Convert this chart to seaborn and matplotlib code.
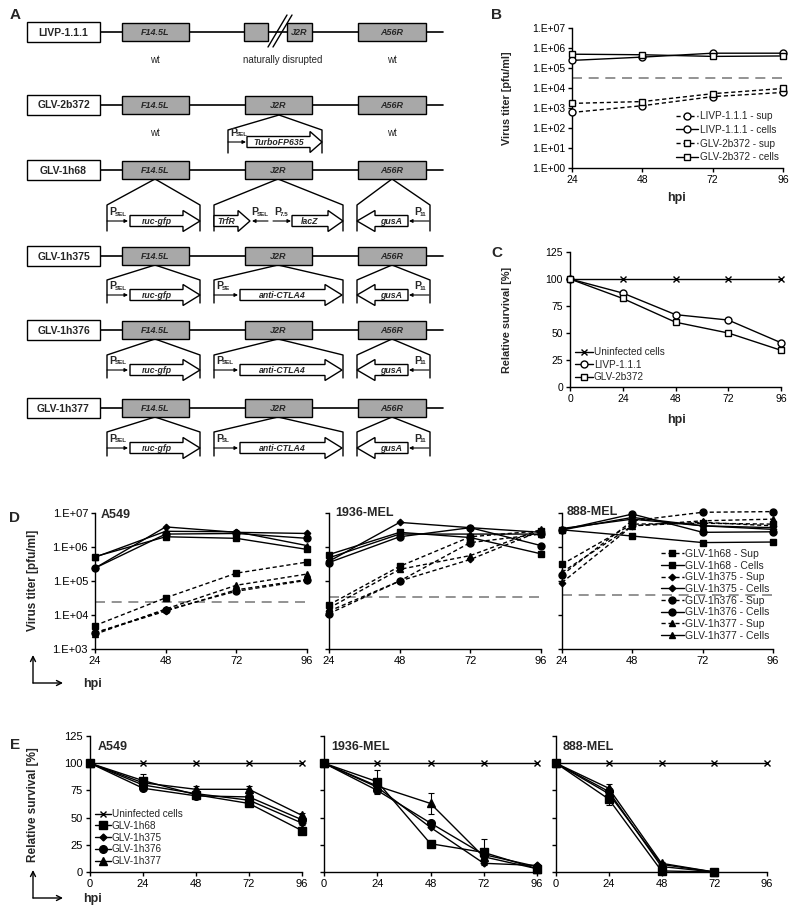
import numpy as np
import matplotlib
matplotlib.use("Agg")
import matplotlib.pyplot as plt
import seaborn as sns
from matplotlib.patches import Rectangle, Polygon
from matplotlib.ticker import FixedLocator, FuncFormatter, NullLocator

# ---------------- data ----------------
hpi_B = [24, 48, 72, 96]
livp_sup = [6.0e2, 1.3e3, 3.7e3, 6.0e3]
livp_cells = [2.4e5, 3.5e5, 5.5e5, 5.5e5]
glv2b372_sup = [1.7e3, 2.1e3, 5.2e3, 9.5e3]
glv2b372_cells = [4.9e5, 4.6e5, 3.8e5, 4.0e5]
threshold_B = 3.3e4

hpi_C = [0, 24, 48, 72, 96]
uninf_C = [100, 100, 100, 100, 100]
livp_surv = [100, 87, 67, 62, 41]
glv2b372_surv = [100, 82, 60, 50, 34]

viruses = ["GLV-1h68", "GLV-1h375", "GLV-1h376", "GLV-1h377"]
cell_lines = ["A549", "1936-MEL", "888-MEL"]
hpi_D = [24, 48, 72, 96]

a549_sup = {"GLV-1h68": [4.9e3, 3.2e4, 1.7e5, 3.6e5],
            "GLV-1h375": [3.0e3, 1.3e4, 5.5e4, 1.1e5],
            "GLV-1h376": [3.0e3, 1.4e4, 5.0e4, 1.05e5],
            "GLV-1h377": [2.7e3, 1.5e4, 7.5e4, 1.6e5]}
a549_cells = {"GLV-1h68": [5.2e5, 2.0e6, 1.8e6, 8.5e5],
              "GLV-1h375": [2.4e5, 3.9e6, 2.7e6, 2.5e6],
              "GLV-1h376": [2.4e5, 2.4e6, 2.5e6, 1.8e6],
              "GLV-1h377": [5.0e5, 2.9e6, 2.8e6, 1.1e6]}
mel1936_sup = {"GLV-1h68": [2.0e4, 2.7e5, 2.0e6, 3.0e6],
               "GLV-1h375": [1.3e4, 1.0e5, 4.3e5, 3.0e6],
               "GLV-1h376": [1.1e4, 1.0e5, 1.35e6, 2.4e6],
               "GLV-1h377": [1.6e4, 2.2e5, 5.6e5, 3.3e6]}
mel1936_cells = {"GLV-1h68": [6.0e5, 2.7e6, 1.9e6, 6.3e5],
                 "GLV-1h375": [3.8e5, 5.3e6, 3.7e6, 2.7e6],
                 "GLV-1h376": [3.5e5, 2.0e6, 3.7e6, 1.1e6],
                 "GLV-1h377": [4.8e5, 2.4e6, 2.4e6, 2.4e6]}
mel888_sup = {"GLV-1h68": [3.1e5, 4.7e6, 5.0e6, 4.7e6],
              "GLV-1h375": [9.0e4, 4.2e6, 5.3e6, 4.2e6],
              "GLV-1h376": [1.5e5, 5.9e6, 1.05e7, 1.1e7],
              "GLV-1h377": [1.8e5, 4.2e6, 5.9e6, 6.6e6]}
mel888_cells = {"GLV-1h68": [3.2e6, 2.1e6, 1.35e6, 1.4e6],
                "GLV-1h375": [3.2e6, 7.4e6, 4.2e6, 3.3e6],
                "GLV-1h376": [3.2e6, 9.3e6, 2.7e6, 2.8e6],
                "GLV-1h377": [3.5e6, 6.6e6, 4.2e6, 3.7e6]}
thresholds_D = [2.4e4, 3.5e4, 4.0e4]

hpi_E = [0, 24, 48, 72, 96]
uninf_E = [100, 100, 100, 100, 100]
a549_surv = {"GLV-1h68": [100, 84, 71, 63, 38],
             "GLV-1h375": [100, 80, 72, 66, 45],
             "GLV-1h376": [100, 77, 70, 69, 48],
             "GLV-1h377": [100, 82, 76, 76, 52]}
mel1936_surv = {"GLV-1h68": [100, 83, 26, 18, 3],
                "GLV-1h375": [100, 78, 41, 8, 6],
                "GLV-1h376": [100, 75, 45, 16, 5],
                "GLV-1h377": [100, 79, 63, 14, 3]}
mel888_surv = {"GLV-1h68": [100, 67, 1, 0, np.nan],
               "GLV-1h375": [100, 72, 7, 0, np.nan],
               "GLV-1h376": [100, 74, 5, 0, np.nan],
               "GLV-1h377": [100, 77, 8, 0, np.nan]}
a549_err = {"GLV-1h68": [0, 6, 2, 2, 2], "GLV-1h375": [0, 5, 2, 2, 2],
            "GLV-1h377": [0, 3, 3, 3, 2]}
mel1936_err = {"GLV-1h68": [0, 11, 2, 12, 1], "GLV-1h377": [0, 4, 10, 3, 1]}
mel888_err = {"GLV-1h68": [0, 5, 1, 0, np.nan], "GLV-1h377": [0, 4, 1, 0, np.nan]}

# ---------------- setup ----------------
sns.set_style("ticks")
plt.rcParams["font.family"] = ["Liberation Sans", "DejaVu Sans"]

W, H = 796, 923
fig = plt.figure(figsize=(W / 100, H / 100), dpi=100)
sch = fig.add_axes([0, 0, 1, 1])
sch.set_xlim(0, W)
sch.set_ylim(H, 0)
sch.axis("off")


def add_ax(x0, y0, x1, y1):
    ax = fig.add_axes([x0 / W, 1 - y1 / H, (x1 - x0) / W, (y1 - y0) / H])
    ax.set_facecolor("none")
    return ax


def style_ax(ax, labelsize=8):
    for s in ["top", "right"]:
        ax.spines[s].set_visible(False)
    for s in ["left", "bottom"]:
        ax.spines[s].set_linewidth(1.0)
        ax.spines[s].set_color("black")
    ax.tick_params(direction="out", length=3, width=1, labelsize=labelsize,
                   pad=2, colors="black")
    ax.set_xlabel("")
    ax.set_ylabel("")


def series(ax, x, y, marker, ls="-", mfc="black", ms=5, yerr=None):
    sns.lineplot(x=x, y=y, ax=ax, color="black", marker=marker, linestyle=ls,
                 markerfacecolor=mfc, markeredgecolor="black", markersize=ms,
                 linewidth=1, markeredgewidth=1, clip_on=False, zorder=3,
                 errorbar=None)
    line = ax.lines[-1]
    if ls == "--":
        line.set_dashes([3, 2])
    if yerr is not None:
        ax.errorbar(x, y, yerr=yerr, fmt="none", ecolor="black",
                    elinewidth=0.8, capsize=2, capthick=0.8, zorder=2,
                    clip_on=False)
    return line


def sci_fmt(v, pos):
    return "1.E+%02d" % int(round(np.log10(v)))


# ---------------- panel A (schematic) ----------------
GRAY = "#a8a8a8"


def rect(x0, y0, x1, y1, fc, text=None, fs=6.5, bold=True, italic=True):
    sch.add_patch(Rectangle((x0, y0), x1 - x0, y1 - y0, fc=fc, ec="black",
                            lw=1, zorder=3))
    if text:
        sch.text((x0 + x1) / 2, (y0 + y1) / 2 + 0.5, text, ha="center",
                 va="center", fontsize=fs, weight="bold" if bold else "normal",
                 style="italic" if italic else "normal", zorder=4)


def block_arrow(x0, x1, yc, direction, head, text):
    bh, hh = 5.5, 10.5
    if direction == "right":
        xh = x1 - head
        pts = [(x0, yc - bh), (xh, yc - bh), (xh, yc - hh), (x1, yc),
               (xh, yc + hh), (xh, yc + bh), (x0, yc + bh)]
        tx = (x0 + xh) / 2
    else:
        xh = x0 + head
        pts = [(x1, yc - bh), (xh, yc - bh), (xh, yc - hh), (x0, yc),
               (xh, yc + hh), (xh, yc + bh), (x1, yc + bh)]
        tx = (xh + x1) / 2
    sch.add_patch(Polygon(pts, closed=True, fc="white", ec="black", lw=1,
                          zorder=3))
    sch.text(tx, yc + 0.5, text, ha="center", va="center", fontsize=6.3,
             style="italic", weight="bold", zorder=4)


def promoter(xt, yc, sub, xa0, xa1):
    sch.text(xt, yc - 9, "P", ha="left", va="center", fontsize=7.5,
             weight="bold")
    sch.text(xt + 6, yc - 7, sub, ha="left", va="center", fontsize=4.5,
             weight="bold")
    sch.annotate("", xy=(xa1, yc), xytext=(xa0, yc),
                 arrowprops=dict(arrowstyle="-|>", lw=0.8, color="black",
                                 mutation_scale=5, shrinkA=0, shrinkB=0))


def wedge(cx, xl, xr, apex, shoulder, bottom):
    sch.plot([xl, xl, cx, xr, xr], [bottom, shoulder, apex, shoulder, bottom],
             color="black", lw=1, zorder=2)


def row(name, ry, disrupted=False):
    sch.plot([100, 443], [ry, ry], color="black", lw=1.2, zorder=1)
    rect(27, ry - 10, 100, ry + 10, "white", name, fs=7.5, italic=False)
    rect(122, ry - 9, 189, ry + 9, GRAY, "F14.5L")
    rect(358, ry - 9, 426, ry + 9, GRAY, "A56R")
    if disrupted:
        rect(244, ry - 9, 268, ry + 9, GRAY)
        rect(287, ry - 9, 312, ry + 9, GRAY, "J2R")
        for dx in (0, 5):
            sch.plot([268 + dx, 287 + dx], [ry + 15, ry - 17], color="black",
                     lw=1, zorder=5)
    else:
        rect(245, ry - 9, 312, ry + 9, GRAY, "J2R")


row("LIVP-1.1.1", 32, disrupted=True)
for xt, t in [(155, "wt"), (283, "naturally disrupted"), (392, "wt")]:
    sch.text(xt, 60, t, ha="center", va="center", fontsize=7)

row("GLV-2b372", 105)
for xt in (155, 392):
    sch.text(xt, 133, "wt", ha="center", va="center", fontsize=7)
wedge(279, 228, 322, 115, 130, 153)
promoter(230, 142, "SEL", 228, 246)
block_arrow(247, 322, 142, "right", 12, "TurboFP635")

rows_lower = [("GLV-1h68", 170, 179, 205, 231, 221),
              ("GLV-1h375", 256, 265, 280, 303, 295),
              ("GLV-1h376", 330, 339, 355, 378, 370),
              ("GLV-1h377", 408, 417, 432, 456, 448)]
j2r_sub = {"GLV-1h375": "SE", "GLV-1h376": "SEL", "GLV-1h377": "SL"}
for name, ry, apex, sh, bot, c in rows_lower:
    row(name, ry)
    wedge(155, 107, 200, apex, sh, bot)
    wedge(278, 214, 343, apex, sh, bot)
    wedge(392, 357, 430, apex, sh, bot)
    promoter(109, c, "SEL", 107, 128)
    block_arrow(130, 200, c, "right", 17, "ruc-gfp")
    block_arrow(357, 408, c, "left", 18, "gusA")
    promoter(414, c, "11", 429, 409)
    if name == "GLV-1h68":
        block_arrow(214, 250, c, "right", 12, "TrfR")
        sch.text(251, c - 9, "P", ha="left", va="center", fontsize=7.5,
                 weight="bold")
        sch.text(257, c - 7, "SEL", ha="left", va="center", fontsize=4.5,
                 weight="bold")
        sch.annotate("", xy=(252, c), xytext=(268, c),
                     arrowprops=dict(arrowstyle="-|>", lw=0.8, color="black",
                                     mutation_scale=5, shrinkA=0, shrinkB=0))
        promoter(274, c, "7.5", 273, 291)
        block_arrow(292, 343, c, "right", 15, "lacZ")
    else:
        promoter(216, c, j2r_sub[name], 214, 238)
        block_arrow(240, 342, c, "right", 17, "anti-CTLA4")

# panel letters
for x, y, t in [(15, 15, "A"), (497, 15, "B"), (497, 253, "C"),
                (15, 518, "D"), (15, 745, "E")]:
    sch.text(x, y, t, ha="center", va="center", fontsize=11, weight="bold")

# ---------------- panel B ----------------
axB = add_ax(572, 28, 783, 168)
axB.set_yscale("log")
lB = []
lB.append(series(axB, hpi_B, livp_sup, "o", "--", "white", 5))
lB.append(series(axB, hpi_B, livp_cells, "o", "-", "white", 5))
lB.append(series(axB, hpi_B, glv2b372_sup, "s", "--", "white", 5))
lB.append(series(axB, hpi_B, glv2b372_cells, "s", "-", "white", 5))
axB.axhline(threshold_B, color="#808080", lw=1.2, dashes=(6, 4), zorder=1)
axB.set_xlim(24, 96)
axB.set_ylim(1, 1e7)
axB.set_xticks(hpi_B)
axB.yaxis.set_major_locator(FixedLocator([10.0 ** k for k in range(8)]))
axB.yaxis.set_major_formatter(FuncFormatter(sci_fmt))
axB.yaxis.set_minor_locator(NullLocator())
style_ax(axB, 7.5)
axB.legend(lB, ["LIVP-1.1.1 - sup", "LIVP-1.1.1 - cells",
                "GLV-2b372 - sup", "GLV-2b372 - cells"],
           loc="upper left", bbox_to_anchor=(676 / W, 1 - 111 / H),
           bbox_transform=fig.transFigure, frameon=False, fontsize=7.2,
           handlelength=2.2, handletextpad=0.15, labelspacing=0.38,
           borderpad=0, borderaxespad=0)
sch.text(507, 98, "Virus titer [pfu/ml]", rotation=90, ha="center",
         va="center", fontsize=7.8, weight="bold")
sch.text(677, 198, "hpi", ha="center", va="center", fontsize=9, weight="bold")

# ---------------- panel C ----------------
axC = add_ax(570, 252, 781, 387)
lC = []
lC.append(series(axC, hpi_C, uninf_C, "x", "-", "black", 5))
lC.append(series(axC, hpi_C, livp_surv, "o", "-", "white", 5))
lC.append(series(axC, hpi_C, glv2b372_surv, "s", "-", "white", 5))
axC.set_xlim(0, 96)
axC.set_ylim(0, 125)
axC.set_xticks(hpi_C)
axC.set_yticks([0, 25, 50, 75, 100, 125])
style_ax(axC, 7.5)
axC.legend(lC, ["Uninfected cells", "LIVP-1.1.1", "GLV-2b372"],
           loc="upper left", bbox_to_anchor=(575 / W, 1 - 347 / H),
           bbox_transform=fig.transFigure, frameon=False, fontsize=7.2,
           handlelength=1.8, handletextpad=0.1, labelspacing=0.25,
           borderpad=0, borderaxespad=0)
sch.text(507, 320, "Relative survival [%]", rotation=90, ha="center",
         va="center", fontsize=7.8, weight="bold")
sch.text(677, 420, "hpi", ha="center", va="center", fontsize=9, weight="bold")

# ---------------- panel D ----------------
markers_D = {"GLV-1h68": ("s", 4.8), "GLV-1h375": ("D", 3.3),
             "GLV-1h376": ("o", 5.0), "GLV-1h377": ("^", 5.0)}
markers_E = {"GLV-1h68": ("s", 5.5), "GLV-1h375": ("D", 3.5),
             "GLV-1h376": ("o", 5.5), "GLV-1h377": ("^", 5.5)}
D_boxes = [(95, 513, 307, 649), (329, 513, 541, 649), (562, 513, 773, 649)]
D_sup = [a549_sup, mel1936_sup, mel888_sup]
D_cells = [a549_cells, mel1936_cells, mel888_cells]
D_titles = [(101, 515), (335, 513), (567, 512)]
for i, (box, sup, cells, thr) in enumerate(zip(D_boxes, D_sup, D_cells,
                                                thresholds_D)):
    ax = add_ax(*box)
    ax.set_yscale("log")
    handles = []
    for v in viruses:
        m, ms = markers_D[v]
        handles.append(series(ax, hpi_D, sup[v], m, "--", "black", ms))
        handles.append(series(ax, hpi_D, cells[v], m, "-", "black", ms))
    ax.axhline(thr, color="#808080", lw=1.2, dashes=(6, 4), zorder=1)
    ax.set_xlim(24, 96)
    ax.set_ylim(1e3, 1e7)
    ax.set_xticks(hpi_D)
    ax.yaxis.set_major_locator(FixedLocator([10.0 ** k for k in range(3, 8)]))
    ax.yaxis.set_major_formatter(FuncFormatter(sci_fmt))
    ax.yaxis.set_minor_locator(NullLocator())
    style_ax(ax, 8)
    if i > 0:
        ax.tick_params(labelleft=False)
    sch.text(D_titles[i][0], D_titles[i][1], cell_lines[i], ha="left",
             va="center", fontsize=9, weight="bold")
    if i == 2:
        labels = []
        for v in viruses:
            labels += [v + " - Sup", v + " - Cells"]
        ax.legend(handles, labels, loc="upper left",
                  bbox_to_anchor=(661 / W, 1 - 549 / H),
                  bbox_transform=fig.transFigure, frameon=False, fontsize=7.5,
                  handlelength=2.2, handletextpad=0.15, labelspacing=0.16,
                  borderpad=0, borderaxespad=0)

sch.text(33, 580, "Virus titer [pfu/ml]", rotation=90, ha="center",
         va="center", fontsize=8.5, weight="bold")


def hpi_arrow(y):
    for xy in [(33, y - 28), (63, y)]:
        sch.annotate("", xy=xy, xytext=(33, y),
                     arrowprops=dict(arrowstyle="->", lw=1, color="black",
                                     mutation_scale=9, shrinkA=0, shrinkB=0))
    sch.text(83, y + 1, "hpi", ha="left", va="center", fontsize=9,
             weight="bold")


hpi_arrow(683)

# ---------------- panel E ----------------
E_boxes = [(90, 736, 302, 872), (324, 736, 537, 872), (556, 736, 767, 872)]
E_surv = [a549_surv, mel1936_surv, mel888_surv]
E_err = [a549_err, mel1936_err, mel888_err]
E_titles = [(98, 747), (331, 747), (563, 747)]
for i, (box, surv, err) in enumerate(zip(E_boxes, E_surv, E_err)):
    ax = add_ax(*box)
    handles = [series(ax, hpi_E, uninf_E, "x", "-", "black", 5)]
    for v in viruses:
        m, ms = markers_E[v]
        handles.append(series(ax, hpi_E, surv[v], m, "-", "black", ms,
                              yerr=err.get(v)))
    ax.set_xlim(0, 96)
    ax.set_ylim(0, 125)
    ax.set_xticks(hpi_E)
    ax.set_yticks([0, 25, 50, 75, 100, 125])
    style_ax(ax, 8)
    if i > 0:
        ax.tick_params(labelleft=False)
    sch.text(E_titles[i][0], E_titles[i][1], cell_lines[i], ha="left",
             va="center", fontsize=9, weight="bold")
    if i == 0:
        ax.legend(handles, ["Uninfected cells"] + viruses, loc="upper left",
                  bbox_to_anchor=(95 / W, 1 - 809 / H),
                  bbox_transform=fig.transFigure, frameon=False, fontsize=7.2,
                  handlelength=1.6, handletextpad=0.1, labelspacing=0.18,
                  borderpad=0, borderaxespad=0)

sch.text(33, 805, "Relative survival [%]", rotation=90, ha="center",
         va="center", fontsize=8.5, weight="bold")
hpi_arrow(898)

fig.savefig("out.png", dpi=100)
